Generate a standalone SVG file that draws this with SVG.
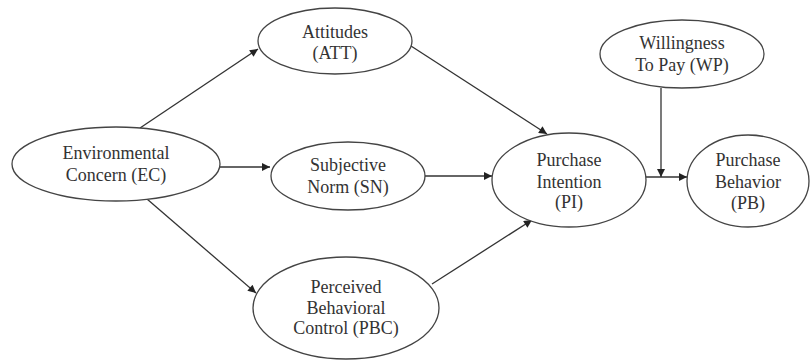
<svg xmlns="http://www.w3.org/2000/svg" width="812" height="360" viewBox="0 0 812 360">
<style>
.node{fill:#fff;stroke:#444;stroke-width:1.3}
.t{font-family:'Liberation Serif','DejaVu Serif',serif;font-size:18px;fill:#333;text-anchor:middle}
.c{stroke:#333;stroke-width:1.3;fill:none}
</style>
<defs>
<marker id="ah" viewBox="0 0 10 10" refX="10" refY="5" markerWidth="10" markerHeight="8" markerUnits="userSpaceOnUse" orient="auto">
<path d="M0,0 L10,5 L0,10 z" fill="#222"/>
</marker>
</defs>
<rect width="812" height="360" fill="#fff"/>
<g id="connectors">
<line class="c" x1="140" y1="128" x2="258" y2="49" marker-end="url(#ah)"/>
<line class="c" x1="220" y1="167" x2="270" y2="167" marker-end="url(#ah)"/>
<line class="c" x1="147" y1="199" x2="256" y2="293" marker-end="url(#ah)"/>
<line class="c" x1="411" y1="46" x2="547" y2="134" marker-end="url(#ah)"/>
<line class="c" x1="424" y1="176" x2="492" y2="176" marker-end="url(#ah)"/>
<line class="c" x1="432" y1="284" x2="532" y2="220" marker-end="url(#ah)"/>
<line class="c" x1="646" y1="177" x2="687" y2="177" marker-end="url(#ah)"/>
<line class="c" x1="661" y1="88" x2="661" y2="177" marker-end="url(#ah)"/>
</g>
<g id="EC">
<ellipse class="node" cx="116" cy="164" rx="104" ry="37"/>
<text class="t" x="116" y="159">Environmental</text>
<text class="t" x="116" y="181">Concern (EC)</text>
</g>
<g id="ATT">
<ellipse class="node" cx="335" cy="41" rx="77" ry="33"/>
<text class="t" x="335" y="38">Attitudes</text>
<text class="t" x="335" y="59">(ATT)</text>
</g>
<g id="SN">
<ellipse class="node" cx="348" cy="176" rx="77" ry="34"/>
<text class="t" x="348" y="171">Subjective</text>
<text class="t" x="348" y="193">Norm (SN)</text>
</g>
<g id="PBC">
<ellipse class="node" cx="346" cy="308" rx="93" ry="51"/>
<text class="t" x="346" y="293">Perceived</text>
<text class="t" x="346" y="314">Behavioral</text>
<text class="t" x="346" y="334">Control (PBC)</text>
</g>
<g id="PI">
<ellipse class="node" cx="569" cy="180" rx="77" ry="47"/>
<text class="t" x="569" y="166">Purchase</text>
<text class="t" x="569" y="188">Intention</text>
<text class="t" x="569" y="208">(PI)</text>
</g>
<g id="WP">
<ellipse class="node" cx="682" cy="54" rx="82" ry="34"/>
<text class="t" x="682" y="49">Willingness</text>
<text class="t" x="682" y="71">To Pay (WP)</text>
</g>
<g id="PB">
<ellipse class="node" cx="748" cy="181" rx="61" ry="46"/>
<text class="t" x="748" y="166">Purchase</text>
<text class="t" x="748" y="188">Behavior</text>
<text class="t" x="748" y="209">(PB)</text>
</g>
</svg>
